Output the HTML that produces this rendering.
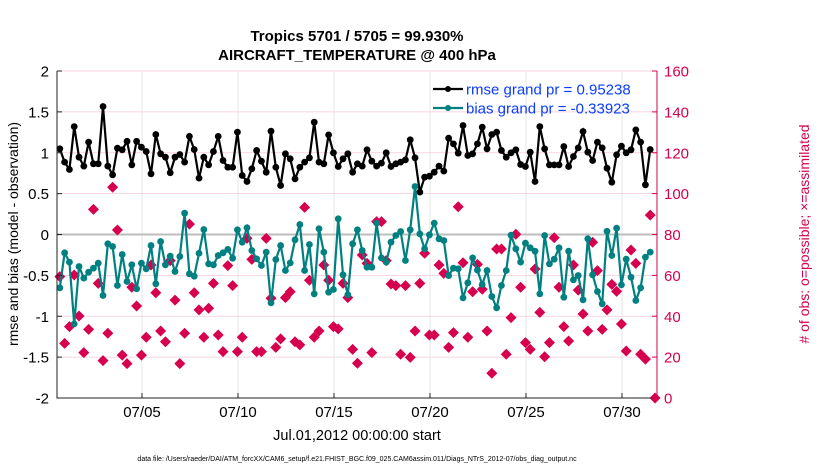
<!DOCTYPE html>
<html><head><meta charset="utf-8"><style>
body{margin:0;background:#fff;}
svg{display:block;font-family:"Liberation Sans",sans-serif;}
</style></head><body>
<svg id="chart" width="830" height="470">
<rect width="830" height="470" fill="#fff"/>
<text x="357" y="41" text-anchor="middle" font-size="15" font-weight="bold">Tropics 5701 / 5705 = 99.930%</text>
<text x="357" y="60" text-anchor="middle" font-size="15" font-weight="bold">AIRCRAFT_TEMPERATURE @ 400 hPa</text>
<g id="grid"></g>
<g id="marks"></g>
<g id="axes"></g>
<text transform="translate(18,234) rotate(-90)" text-anchor="middle" font-size="14">rmse and bias (model - observation)</text>
<text transform="translate(809,234) rotate(-90)" text-anchor="middle" font-size="14" fill="#d6004f"># of obs: o=possible; ×=assimilated</text>
<text x="357" y="440" text-anchor="middle" font-size="14.5">Jul.01,2012 00:00:00 start</text>
<text x="357" y="461" text-anchor="middle" font-size="7">data file: /Users/raeder/DAI/ATM_forcXX/CAM6_setup/f.e21.FHIST_BGC.f09_025.CAM6assim.011/Diags_NTrS_2012-07/obs_diag_output.nc</text>
<g>
<line x1="433" y1="89" x2="463" y2="89" stroke="#000" stroke-width="2.2"/>
<circle cx="448" cy="89" r="3" fill="#000"/>
<text x="466" y="94.5" font-size="15" fill="#0a3cff">rmse grand pr = 0.95238</text>
<line x1="433" y1="108" x2="463" y2="108" stroke="#008080" stroke-width="2.2"/>
<circle cx="448" cy="108" r="3" fill="#008080"/>
<text x="466" y="113.5" font-size="15" fill="#0a3cff">bias grand pr = -0.33923</text>
</g>
</svg>
<script>
const rmseValues=[1.048,0.885,0.795,1.32,0.946,0.836,1.13,0.865,0.865,1.566,0.836,0.73,1.056,1.036,1.14,0.852,1.14,1.068,1.015,0.742,1.223,0.987,0.946,0.755,0.946,0.979,0.885,1.2,1.04,0.69,0.946,0.852,
1.015,1.2,0.905,0.823,0.823,1.252,0.722,0.648,0.804,1.028,0.897,0.762,1.264,0.823,0.60,0.987,0.926,0.681,0.823,0.885,0.938,1.374,0.885,0.865,1.219,0.999,0.832,0.926,0.987,0.762,0.865,
0.836,1.036,0.897,0.836,0.873,0.999,0.832,0.865,0.885,0.913,1.158,0.938,0.518,0.701,0.713,0.762,0.836,0.775,1.178,1.109,0.995,1.333,0.966,0.987,1.109,1.313,1.048,1.223,1.252,1.028,0.946,
0.999,1.036,0.856,0.832,1.007,0.648,1.32,1.048,0.852,0.852,0.852,1.076,0.832,0.954,1.06,1.26,1.007,0.905,1.13,1.06,0.811,0.64,0.975,1.08,0.999,1.036,1.28,1.13,0.608,1.04];
const biasValues=[-0.652,-0.224,-0.338,-1.093,-0.391,-0.534,-0.461,-0.412,-0.351,-0.746,-0.114,-0.147,-0.624,-0.245,-0.575,-0.371,-0.664,-0.351,-0.42,-0.135,-0.603,-0.086,-0.371,-0.265,-0.453,-0.269,0.261,-0.481,-0.51,-0.229,0.061,-0.359,
-0.371,-0.257,-0.224,-0.183,-0.29,0.057,-0.094,0.082,-0.196,-0.298,-0.379,-0.216,-0.836,-0.306,-0.135,-0.44,-0.347,-0.065,0.122,-0.44,-0.122,-0.726,0.07,-0.216,-0.706,-0.673,0.192,-0.493,-0.738,-0.114,0.057,
-0.196,-0.4,-0.4,0.139,-0.286,-0.338,-0.094,-0.012,0.037,-0.318,0.057,0.587,0.008,-0.175,-0.004,0.139,-0.053,-0.073,-0.502,-0.412,-0.42,-0.775,-0.591,-0.286,-0.436,-0.612,-0.44,-0.758,-0.897,-0.624,-0.44,
-0.008,-0.175,-0.338,-0.106,-0.163,-0.204,-0.726,-0.012,-0.359,-0.302,-0.163,-0.767,-0.204,-0.555,-0.502,-0.799,-0.053,-0.493,-0.697,-0.848,0.04,-0.257,0.077,-0.616,-0.302,-0.522,-0.807,-0.652,-0.277,-0.216];
const obsCounts=[59.4,26.7,34.9,60.2,40.1,22.2,33.6,92.3,56.1,18.3,31.7,103.1,82.2,21,16.8,54.2,45,21,29.7,65.1,51.5,32.8,27.5,67.2,47.9,16.8,31.7,85.1,51.5,43.1,29.7,43.9,
56.1,30.8,22.7,64.8,55,22.7,29.7,78.1,67.8,22.7,22.7,78.1,48.8,24.8,28.9,49.1,52.0,27.5,26.0,93.3,57.6,29.7,32.8,65.1,57.6,34.9,33.8,56.1,49.1,23.8,17.0,
70.0,65.9,22.2,86.3,86.3,67.2,55.8,55.0,21.4,55.0,19.9,32.8,56.1,70.8,30.8,30.8,65.1,61.0,24.8,32.0,93.6,66.2,29.7,52.0,65.4,53.2,32.8,12.1,72.9,72.9,21.4,
39.3,80.1,54.2,27.1,23.8,63.1,41.9,20.2,27.1,78.4,54.2,34.9,27.9,65.1,52.8,41.1,32.8,76.2,62.3,33.6,43.1,55.6,52.2,36.2,23.0,72.4,65.9,21.4,19.0,89.5,0];
const xTickDays=[4,9,14,19,24,29];
const xTickLabels=["07/05","07/10","07/15","07/20","07/25","07/30"];
const leftTicks=[2,1.5,1,0.5,0,-0.5,-1,-1.5,-2];
const rightTicks=[0,20,40,60,80,100,120,140,160];
const startDay=-0.28, stepDay=0.25;

const L=57,R=657,T=71,B=398;
const xDay=d=>65.2+19.2*d;
const yL=v=>B-(v+2)/4*(B-T);
const yR=v=>B-v/160*(B-T);
const NS="http://www.w3.org/2000/svg";
function mk(tag,attrs,parent){const e=document.createElementNS(NS,tag);for(const k in attrs)e.setAttribute(k,attrs[k]);parent.appendChild(e);return e;}
const grid=document.getElementById('grid'),marks=document.getElementById('marks'),axes=document.getElementById('axes');
rightTicks.forEach(v=>{const l=mk('line',{x1:L,x2:R,y1:yR(v),y2:yR(v),stroke:'#f6c9d8','stroke-width':0.8},grid);

});
xTickDays.forEach(d=>{const l=mk('line',{x1:xDay(d),x2:xDay(d),y1:T,y2:B,stroke:'#e0e0e0','stroke-width':0.8},grid);

});
const zl=mk('line',{x1:L,x2:R,y1:yL(0),y2:yL(0),stroke:'#bdbdbd','stroke-width':2},grid);


obsCounts.forEach((c,i)=>{const x=xDay(startDay+i*stepDay),y=yR(c);
const p=mk('path',{d:`M${x-5.5},${y}L${x},${y-5.5}L${x+5.5},${y}L${x},${y+5.5}Z`,fill:'#d6004f'},marks);

});
function series(vals,color,name){
const pts=vals.map((v,i)=>[xDay(startDay+i*stepDay),yL(v)]);
const pl=mk('polyline',{points:pts.map(p=>p.join(',')).join(' '),fill:'none',stroke:color,'stroke-width':2.2},marks);


pts.forEach(p=>{const c=mk('circle',{cx:p[0],cy:p[1],r:3.4,fill:color},marks);

});}
series(rmseValues,'#000','rmse');
series(biasValues,'#008080','bias');
const ax=mk('path',{d:`M${L},${T}V${B}H${R}`,fill:'none',stroke:'#222','stroke-width':1},axes);


const rax=mk('line',{x1:R,x2:R,y1:T,y2:B,stroke:'#d6004f','stroke-width':1},axes);


leftTicks.forEach(v=>{mk('line',{x1:L,x2:L+5,y1:yL(v),y2:yL(v),stroke:'#222'},axes);
const t=mk('text',{x:L-8,y:yL(v)+5.5,'text-anchor':'end','font-size':15},axes);t.textContent=v;

});
rightTicks.forEach(v=>{mk('line',{x1:R-5,x2:R,y1:yR(v),y2:yR(v),stroke:'#d6004f'},axes);
const t=mk('text',{x:R+7,y:yR(v)+5.5,'font-size':15,fill:'#d6004f'},axes);t.textContent=v;

});
xTickDays.forEach((d,i)=>{mk('line',{x1:xDay(d),x2:xDay(d),y1:B,y2:B-5,stroke:'#222'},axes);
const t=mk('text',{x:xDay(d),y:B+19,'text-anchor':'middle','font-size':15},axes);t.textContent=xTickLabels[i];

});
</script>
</body></html>
